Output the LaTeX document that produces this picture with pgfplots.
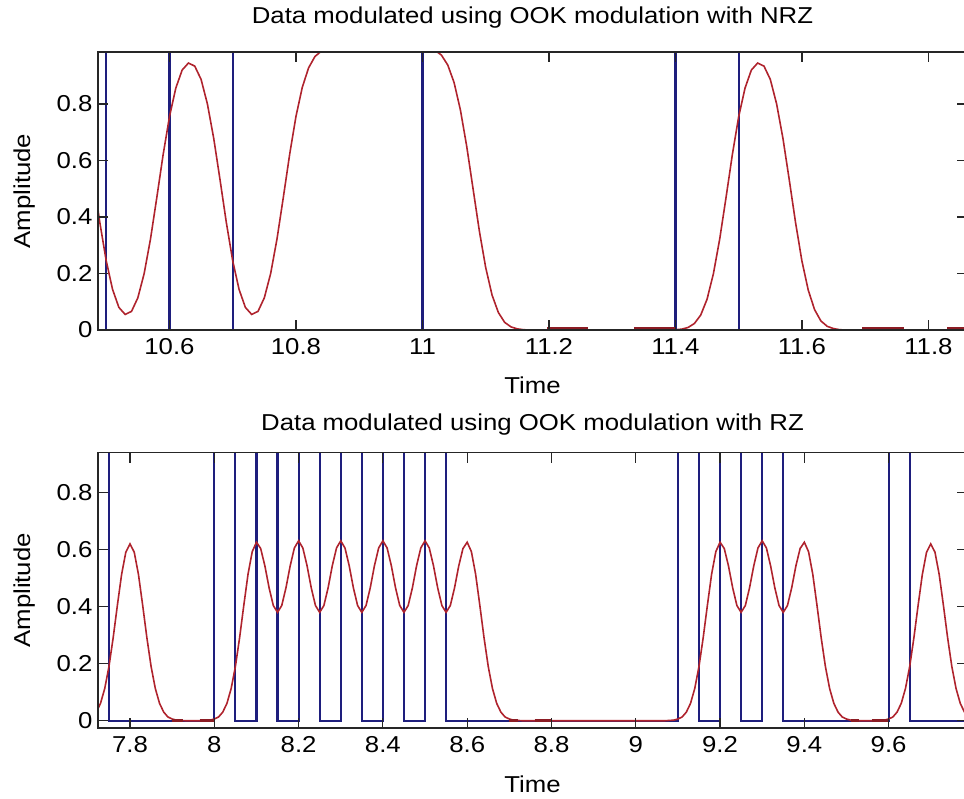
\documentclass[border=0pt]{standalone}
\usepackage{fontspec}
\setmainfont[FakeStretch=1.12]{Liberation Sans}
\usepackage{pgfplots}
\pgfplotsset{compat=1.18}
\definecolor{mblue}{RGB}{30,30,125}
\definecolor{mred}{RGB}{175,35,45}
\pgfplotsset{mystyle/.style={
  scale only axis, width=869pt,
  axis line style={line width=1.4pt, black!85},
  tick style={line width=1.2pt, black!85},
  major tick length=10pt,
  tick align=inside,
  scaled ticks=false,
  /pgf/number format/assume math mode=true,
  xticklabel style={/pgf/number format/fixed, /pgf/number format/precision=1, yshift=-5pt},
  yticklabel style={/pgf/number format/fixed, /pgf/number format/precision=1, xshift=-2pt},
  tick label style={font=\fontsize{23}{27}\selectfont},
  label style={font=\fontsize{23}{27}\selectfont},
  title style={font=\fontsize{23}{27}\selectfont, yshift=0pt},
  axis on top,
  ylabel style={at={(axis description cs:-0.085,0.5)}, anchor=center},
}}
\begin{document}
\begin{tikzpicture}
\useasboundingbox (0,0) rectangle (964pt,-798pt);
% ---------------- top: NRZ ----------------
\begin{axis}[mystyle, at={(98pt,-52pt)}, anchor=north west, height=278pt,
  xmin=10.487, xmax=11.861, ymin=0, ymax=0.984,
  xtick={10.6,10.8,11,11.2,11.4,11.6,11.8},
  ytick={0,0.2,0.4,0.6,0.8},
  title={Data modulated using OOK modulation with NRZ},
  title style={at={(axis description cs:0.5,1.104)}, anchor=center, yshift=0pt},
  xlabel={Time},
  xlabel style={at={(axis description cs:0.5,-0.198)}, anchor=center},
  ylabel={Amplitude}]
\addplot[mblue, line width=2.2pt, const plot] coordinates {
(10.40,1)(10.5,0)(10.6,1)(10.7,0)(11.0,1)(11.4,0)(11.5,1)(11.9,1)};
\addplot[mred, line width=1.6pt] coordinates {
(10.48,0.531)(10.49,0.379)(10.50,0.245)(10.51,0.144)(10.52,0.080)(10.53,0.055)(10.54,0.066)(10.55,0.114)(10.56,0.200)(10.57,0.322)(10.58,0.469)(10.59,0.621)(10.60,0.755)(10.61,0.856)(10.62,0.920)(10.63,0.945)(10.64,0.934)(10.65,0.887)(10.66,0.800)(10.67,0.678)(10.68,0.531)(10.69,0.379)(10.70,0.245)(10.71,0.144)(10.72,0.080)(10.73,0.055)(10.74,0.066)(10.75,0.114)(10.76,0.200)(10.77,0.322)(10.78,0.469)(10.79,0.621)(10.80,0.756)(10.81,0.859)(10.82,0.928)(10.83,0.968)(10.84,0.987)(10.85,0.996)(10.86,0.999)(10.87,1.0)(10.90,1.0)(10.95,1.0)(11.00,0.999)(11.01,0.996)(11.02,0.990)(11.03,0.973)(11.04,0.938)(11.05,0.876)(11.06,0.779)(11.07,0.650)(11.08,0.500)(11.09,0.350)(11.10,0.221)(11.11,0.124)(11.12,0.062)(11.13,0.027)(11.14,0.011)(11.15,0.004)(11.16,0.001)(11.17,0)(11.39,0)(11.40,0.001)(11.41,0.003)(11.42,0.009)(11.43,0.023)(11.44,0.053)(11.45,0.109)(11.46,0.199)(11.47,0.322)(11.48,0.469)(11.49,0.621)(11.50,0.755)(11.51,0.856)(11.52,0.920)(11.53,0.945)(11.54,0.934)(11.55,0.887)(11.56,0.800)(11.57,0.678)(11.58,0.531)(11.59,0.379)(11.60,0.244)(11.61,0.141)(11.62,0.072)(11.63,0.032)(11.64,0.013)(11.65,0.005)(11.66,0.001)(11.67,0)(11.87,0)};
\addplot[mred!80!black, line width=2.8pt] coordinates {(11.197,0.004)(11.262,0.004)};
\addplot[mred!80!black, line width=2.8pt] coordinates {(11.335,0.004)(11.400,0.004)};
\addplot[mred!80!black, line width=2.8pt] coordinates {(11.695,0.004)(11.762,0.004)};
\addplot[mred!80!black, line width=2.8pt] coordinates {(11.830,0.004)(11.870,0.004)};
\end{axis}
% ---------------- bottom: RZ ----------------
\begin{axis}[mystyle, at={(98pt,-452.7pt)}, anchor=north west, height=275.3pt,
  xmin=7.724, xmax=9.786, ymin=-0.0256, ymax=0.94,
  xtick={7.8,8,8.2,8.4,8.6,8.8,9,9.2,9.4,9.6},
  ytick={0,0.2,0.4,0.6,0.8},
  title={Data modulated using OOK modulation with RZ},
  title style={at={(axis description cs:0.5,1.079)}, anchor=center, yshift=0pt},
  xlabel={Time},
  xlabel style={at={(axis description cs:0.5,-0.203)}, anchor=center},
  ylabel={Amplitude}]
\addplot[mblue, line width=2.2pt, const plot] coordinates {
(7.70,1)(7.75,0)(8.0,1)(8.05,0)(8.1,1)(8.15,0)(8.2,1)(8.25,0)(8.3,1)(8.35,0)(8.4,1)(8.45,0)(8.5,1)(8.55,0)(9.1,1)(9.15,0)(9.2,1)(9.25,0)(9.3,1)(9.35,0)(9.6,1)(9.65,0)(9.85,0)};
\addplot[mred, line width=1.6pt] coordinates {
(7.72,0.030)(7.73,0.061)(7.74,0.113)(7.75,0.190)(7.76,0.291)(7.77,0.405)(7.78,0.513)(7.79,0.591)(7.80,0.620)(7.81,0.591)(7.82,0.513)(7.83,0.405)(7.84,0.291)(7.85,0.190)(7.86,0.113)(7.87,0.061)(7.88,0.030)(7.89,0.013)(7.90,0.006)(7.91,0.002)(7.92,0.001)(7.93,0)(7.97,0)(7.98,0.001)(7.99,0.002)(8.00,0.006)(8.01,0.013)(8.02,0.030)(8.03,0.061)(8.04,0.113)(8.05,0.190)(8.06,0.291)(8.07,0.405)(8.08,0.514)(8.09,0.593)(8.10,0.626)(8.11,0.604)(8.12,0.543)(8.13,0.466)(8.14,0.404)(8.15,0.380)(8.16,0.404)(8.17,0.466)(8.18,0.543)(8.19,0.606)(8.20,0.631)(8.21,0.606)(8.22,0.544)(8.23,0.466)(8.24,0.404)(8.25,0.380)(8.26,0.404)(8.27,0.466)(8.28,0.544)(8.29,0.606)(8.30,0.631)(8.31,0.606)(8.32,0.544)(8.33,0.466)(8.34,0.404)(8.35,0.380)(8.36,0.404)(8.37,0.466)(8.38,0.544)(8.39,0.606)(8.40,0.631)(8.41,0.606)(8.42,0.544)(8.43,0.466)(8.44,0.404)(8.45,0.380)(8.46,0.404)(8.47,0.466)(8.48,0.544)(8.49,0.606)(8.50,0.631)(8.51,0.606)(8.52,0.544)(8.53,0.466)(8.54,0.404)(8.55,0.380)(8.56,0.404)(8.57,0.466)(8.58,0.543)(8.59,0.604)(8.60,0.626)(8.61,0.593)(8.62,0.514)(8.63,0.405)(8.64,0.291)(8.65,0.190)(8.66,0.113)(8.67,0.061)(8.68,0.030)(8.69,0.013)(8.70,0.006)(8.71,0.002)(8.72,0.001)(8.73,0)(9.07,0)(9.08,0.001)(9.09,0.002)(9.10,0.006)(9.11,0.013)(9.12,0.030)(9.13,0.061)(9.14,0.113)(9.15,0.190)(9.16,0.291)(9.17,0.405)(9.18,0.514)(9.19,0.593)(9.20,0.626)(9.21,0.604)(9.22,0.543)(9.23,0.466)(9.24,0.404)(9.25,0.380)(9.26,0.404)(9.27,0.466)(9.28,0.543)(9.29,0.606)(9.30,0.631)(9.31,0.606)(9.32,0.543)(9.33,0.466)(9.34,0.404)(9.35,0.380)(9.36,0.404)(9.37,0.466)(9.38,0.543)(9.39,0.604)(9.40,0.626)(9.41,0.593)(9.42,0.514)(9.43,0.405)(9.44,0.291)(9.45,0.190)(9.46,0.113)(9.47,0.061)(9.48,0.030)(9.49,0.013)(9.50,0.006)(9.51,0.002)(9.52,0.001)(9.53,0)(9.57,0)(9.58,0.001)(9.59,0.002)(9.60,0.006)(9.61,0.013)(9.62,0.030)(9.63,0.061)(9.64,0.113)(9.65,0.190)(9.66,0.291)(9.67,0.405)(9.68,0.513)(9.69,0.591)(9.70,0.620)(9.71,0.591)(9.72,0.513)(9.73,0.405)(9.74,0.291)(9.75,0.190)(9.76,0.113)(9.77,0.061)(9.78,0.030)(9.79,0.013)(9.80,0.006)};
\addplot[mred!80!black, line width=2.8pt] coordinates {(7.900,0)(7.925,0)};
\addplot[mred!80!black, line width=2.8pt] coordinates {(7.965,0)(8.000,0)};
\addplot[mred!80!black, line width=2.8pt] coordinates {(8.700,0)(8.720,0)};
\addplot[mred!80!black, line width=2.8pt] coordinates {(8.760,0)(8.800,0)};
\addplot[mred!80!black, line width=2.8pt] coordinates {(9.510,0)(9.530,0)};
\addplot[mred!80!black, line width=2.8pt] coordinates {(9.560,0)(9.600,0)};
\end{axis}
\end{tikzpicture}
\end{document}
